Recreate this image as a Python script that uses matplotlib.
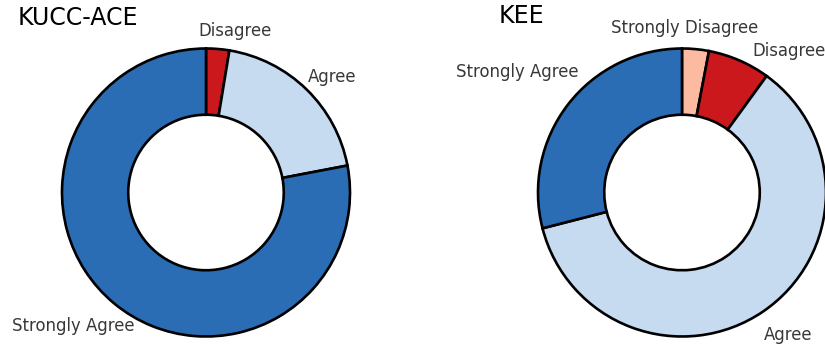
import matplotlib.pyplot as plt

# KUCC-ACE responses (percent), clockwise from 12 o'clock
kucc_labels = ['Disagree', 'Agree', 'Strongly Agree']
kucc_values = [2.6, 19.4, 78]

# KEE responses (percent), clockwise from 12 o'clock
kee_labels = ['Strongly Disagree', 'Disagree', 'Agree', 'Strongly Agree']
kee_values = [3, 7, 61, 29]

colors = {
    'Strongly Agree': '#2a6db5',
    'Agree': '#c6dbef',
    'Disagree': '#cb181d',
    'Strongly Disagree': '#fcbba1',
}

W, H = 825, 349
R = 144.0  # outer radius in pixels

fig = plt.figure(figsize=(W / 100, H / 100), dpi=100)


def donut(left_px, width_px, cx, cy, labels, values, label_pos):
    ax = fig.add_axes([left_px / W, 0, width_px / W, 1])
    wedges, texts = ax.pie(
        values,
        labels=labels,
        colors=[colors[l] for l in labels],
        startangle=90,
        counterclock=False,
        radius=1,
        wedgeprops=dict(width=0.46, edgecolor='black', linewidth=1.9),
        textprops=dict(fontsize=11.9, color='#383838'),
    )
    for t, l in zip(texts, labels):
        x, y, ha = label_pos[l]
        t.set_position((x, y))
        t.set_ha(ha)
        t.set_va('center')
        t.set_clip_on(False)
    ax.set_aspect('auto')
    ax.set_xlim(-(cx - left_px) / R, (left_px + width_px - cx) / R)
    ax.set_ylim(-(H - cy) / R, cy / R)
    return ax


donut(0, 412.5, 206, 192.5, kucc_labels, kucc_values, {
    'Disagree': (0.20, 1.12, 'center'),
    'Agree': (0.875, 0.80, 'center'),
    'Strongly Agree': (-1.347, -0.93, 'left'),
})
donut(412.5, 412.5, 682, 192.5, kee_labels, kee_values, {
    'Strongly Disagree': (0.02, 1.14, 'center'),
    'Disagree': (0.486, 0.98, 'left'),
    'Strongly Agree': (-1.146, 0.84, 'center'),
    'Agree': (0.736, -0.99, 'center'),
})

fig.text(18 / W, 1 - 18 / H, 'KUCC-ACE', fontsize=17, ha='left', va='center')
fig.text(499 / W, 1 - 16 / H, 'KEE', fontsize=17, ha='left', va='center')

fig.savefig('out.png', dpi=100)
